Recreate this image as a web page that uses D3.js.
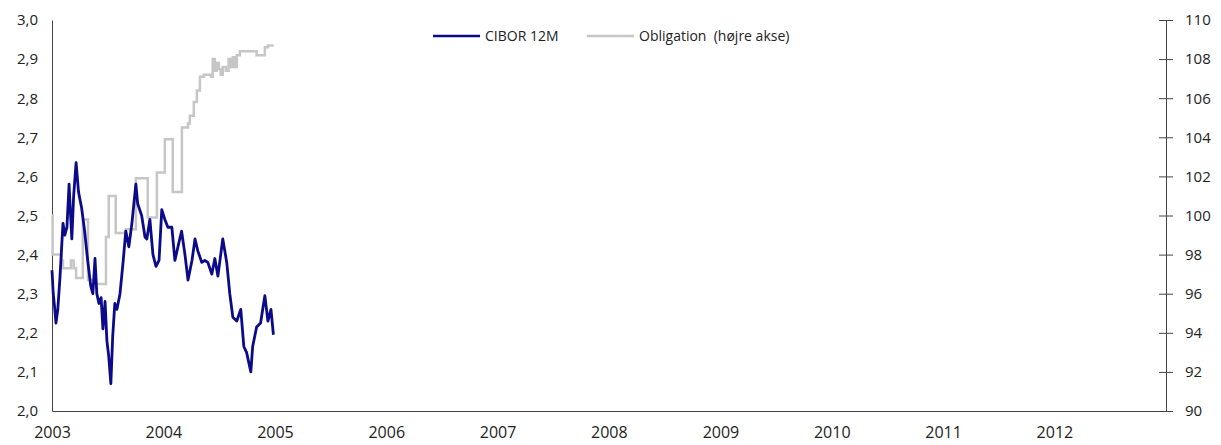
<!doctype html>
<html>
<head>
<meta charset="utf-8"/>
<title>CIBOR 12M og obligation</title>
<script src="https://d3js.org/d3.v7.min.js"></script>
<style>
body { margin: 0; background: #fff; }
text { font-family: "Open Sans", "Noto Sans", sans-serif; fill: #222; }
</style>
</head>
<body>
<svg id="chart"></svg>
<script>
const width = 1221
const height = 445

// CIBOR 12M (venstre akse, pct.)
const ciborDates = ['2003-01-01','2003-01-05','2003-01-09','2003-01-14','2003-01-20','2003-01-27','2003-02-06','2003-02-12','2003-02-19','2003-02-26','2003-03-03','2003-03-07','2003-03-13','2003-03-21','2003-03-29','2003-04-08','2003-04-18','2003-04-28','2003-05-08','2003-05-15','2003-05-22','2003-05-28','2003-06-04','2003-06-11','2003-06-17','2003-06-24','2003-06-30','2003-07-06','2003-07-13','2003-07-19','2003-07-26','2003-08-02','2003-08-12','2003-08-22','2003-08-31','2003-09-10','2003-09-20','2003-10-03','2003-10-09','2003-10-22','2003-11-02','2003-11-08','2003-11-18','2003-11-28','2003-12-08','2003-12-18','2003-12-27','2004-01-06','2004-01-16','2004-01-29','2004-02-08','2004-02-18','2004-03-01','2004-03-12','2004-03-22','2004-04-04','2004-04-14','2004-04-23','2004-05-06','2004-05-16','2004-05-26','2004-06-08','2004-06-18','2004-06-28','2004-07-14','2004-07-27','2004-08-06','2004-08-16','2004-08-29','2004-09-11','2004-09-21','2004-09-30','2004-10-14','2004-10-20','2004-11-02','2004-11-15','2004-11-29','2004-12-09','2004-12-19','2004-12-27']
const ciborValues = [2.36,2.30,2.27,2.225,2.26,2.34,2.48,2.45,2.47,2.58,2.50,2.44,2.55,2.635,2.56,2.52,2.46,2.385,2.32,2.30,2.39,2.30,2.275,2.29,2.21,2.28,2.18,2.14,2.07,2.19,2.275,2.26,2.30,2.38,2.46,2.42,2.48,2.58,2.53,2.50,2.445,2.44,2.49,2.40,2.37,2.385,2.515,2.49,2.47,2.47,2.385,2.42,2.46,2.40,2.335,2.385,2.44,2.41,2.38,2.385,2.38,2.35,2.39,2.345,2.44,2.38,2.30,2.24,2.23,2.26,2.165,2.15,2.10,2.165,2.215,2.225,2.295,2.23,2.26,2.195]

// Obligation (højre akse, kurs)
const bondDates = ['2003-01-01','2003-01-03','2003-02-01','2003-02-06','2003-03-04','2003-03-13','2003-03-21','2003-04-12','2003-04-29','2003-05-25','2003-06-27','2003-07-06','2003-07-29','2003-08-31','2003-10-03','2003-11-11','2003-12-11','2004-01-06','2004-02-01','2004-03-02','2004-03-22','2004-03-28','2004-04-10','2004-04-20','2004-04-30','2004-05-13','2004-06-05','2004-06-11','2004-06-18','2004-06-24','2004-07-01','2004-07-07','2004-07-14','2004-07-24','2004-08-02','2004-08-09','2004-08-16','2004-08-22','2004-08-29','2004-09-08','2004-10-17','2004-11-02','2004-11-29','2004-12-09','2004-12-28']
const bondValues = [100.0,98.0,97.7,97.3,97.7,97.3,96.8,99.8,96.7,96.5,98.9,101.0,99.1,99.3,101.9,99.9,102.2,103.9,101.2,104.5,104.7,105.1,105.8,106.4,107.1,107.2,107.1,108.0,107.4,107.8,107.5,107.2,107.6,107.4,108.0,107.6,108.1,107.6,108.2,108.4,108.4,108.2,108.6,108.7,108.7]

const years = d3.range(2003, 2013)
const leftTicks = d3.range(0, 11).map(i => 2 + i / 10)
const rightTicks = d3.range(90, 111, 2)
const seriesNames = ['CIBOR 12M', 'Obligation  (højre akse)']
const seriesColors = ['#0a0a8a', '#c6c6c6']

const parse = d3.timeParse('%Y-%m-%d')
const cibor = ciborDates.map((d, i) => ({ date: parse(d), value: ciborValues[i] }))
const bond = bondDates.map((d, i) => ({ date: parse(d), value: bondValues[i] }))

const svg = d3.select('#chart')
    .attr('width', width)
    .attr('height', height)

const m = { left: 52, right: 1166, top: 20, bottom: 411 }

const x = d3.scaleTime()
    .domain([new Date(2003, 0, 1), new Date(2013, 0, 1)])
    .range([m.left, m.right])
const yL = d3.scaleLinear().domain([2, 3]).range([m.bottom, m.top])
const yR = d3.scaleLinear().domain([90, 110]).range([m.bottom, m.top])

const fmt = d3.format('.1f')

// left axis: line only, labels to the left
const gL = svg.append('g')
    .attr('transform', `translate(${m.left},0)`)
    .call(d3.axisLeft(yL).tickValues(leftTicks).tickSize(0).tickPadding(14)
        .tickFormat(d => fmt(d).replace('.', ',')))
gL.select('.domain').attr('stroke', '#444')
gL.selectAll('text').style('font-size', '15px').attr('fill', '#222')

// right axis with ticks crossing the line
const gR = svg.append('g')
    .attr('transform', `translate(${m.right},0)`)
    .call(d3.axisRight(yR).tickValues(rightTicks).tickSize(7).tickPadding(12))
gR.select('.domain').attr('stroke', '#444')
gR.selectAll('.tick line').attr('x1', -7).attr('stroke', '#444')
gR.selectAll('text').style('font-size', '15px').attr('fill', '#222')

// bottom axis
const gX = svg.append('g')
    .attr('transform', `translate(0,${m.bottom})`)
    .call(d3.axisBottom(x).tickValues(years.map(y => new Date(y, 0, 1))).tickSize(0).tickPadding(16)
        .tickFormat(d3.timeFormat('%Y')))
gX.select('.domain').attr('stroke', '#444')
gX.selectAll('text').style('font-size', '16px').attr('fill', '#222')

// lines
svg.append('path')
    .datum(bond)
    .attr('fill', 'none')
    .attr('stroke', seriesColors[1])
    .attr('stroke-width', 2.5)
    .attr('d', d3.line().curve(d3.curveStepAfter).x(d => x(d.date)).y(d => yR(d.value)))

svg.append('path')
    .datum(cibor)
    .attr('fill', 'none')
    .attr('stroke', seriesColors[0])
    .attr('stroke-width', 2.8)
    .attr('stroke-linejoin', 'round')
    .attr('d', d3.line().x(d => x(d.date)).y(d => yL(d.value)))

// legend
const legendPos = [433, 587]
seriesNames.forEach((name, i) => {
    const g = svg.append('g').attr('transform', `translate(${legendPos[i]},36)`)
    g.append('line').attr('x1', 0).attr('x2', 47).attr('y1', 0).attr('y2', 0)
        .attr('stroke', seriesColors[i]).attr('stroke-width', 2.5)
    g.append('text').attr('x', 52).attr('y', 5)
        .style('font-size', '14px').style('white-space', 'pre')
        .text(name)
})
</script>
</body>
</html>
